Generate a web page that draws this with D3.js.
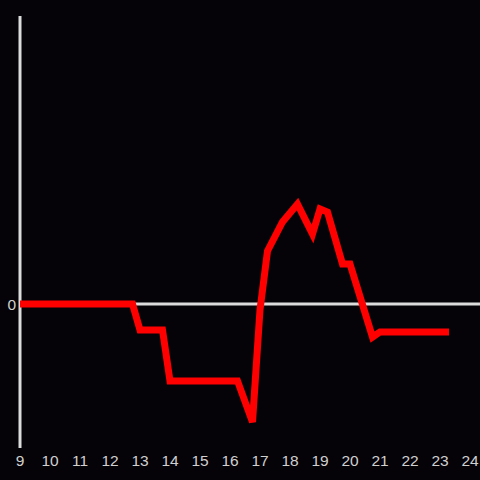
<html>
  <head>
    <script src="https://cdn.jsdelivr.net/npm/d3@7"></script>
    <style>
      body { margin: 0; background: #050308; }
      text { font-family: "Liberation Sans", Arial, sans-serif; font-size: 15.5px; fill: #d0d0d0; }
    </style>
  </head>
  <body>
    <div id="main"></div>
  <script>
    // hours of day and the series value at each
    var hours  = [9.0, 12.75, 13.0, 13.75, 14.0, 16.25, 16.75, 17.0, 17.25, 17.75, 18.25, 18.75, 19.0, 19.25, 19.75, 20.0, 20.75, 21.0, 23.3];
    var values = [0, 0, -9, -9, -26.7, -26.7, -41, -2, 18.4, 28.5, 34.7, 24.3, 33, 31.9, 13.9, 13.9, -11.5, -9.7, -9.7];
    var xTicks = [9, 10, 11, 12, 13, 14, 15, 16, 17, 18, 19, 20, 21, 22, 23, 24];
    var yTicks = [0];

    var width = 480, height = 480;

    var svg = d3.select('#main')
      .append('svg')
      .attr('width', width)
      .attr('height', height)
      .style('display', 'block')
      .style('background', '#050308');

    var x = d3.scaleLinear().domain([9, 24]).range([20, 470]);
    var y = d3.scaleLinear().domain([-50, 100]).range([448, 16]);

    // y axis line
    svg.append('line')
      .attr('x1', x(9)).attr('x2', x(9))
      .attr('y1', y(100)).attr('y2', y(-50))
      .attr('stroke', '#dcdcdc')
      .attr('stroke-width', 3);

    // zero line
    svg.append('line')
      .attr('x1', x(9)).attr('x2', width)
      .attr('y1', y(0)).attr('y2', y(0))
      .attr('stroke', '#dcdcdc')
      .attr('stroke-width', 3);

    // tick labels
    svg.selectAll('.xl')
      .data(xTicks)
      .enter()
      .append('text')
      .attr('class', 'xl')
      .attr('x', function(d) { return x(d); })
      .attr('y', 466)
      .attr('text-anchor', 'middle')
      .text(function(d) { return d; });

    svg.selectAll('.yl')
      .data(yTicks)
      .enter()
      .append('text')
      .attr('class', 'yl')
      .attr('x', 16)
      .attr('y', function(d) { return y(d) + 6; })
      .attr('text-anchor', 'end')
      .text(function(d) { return d; });

    var line = d3.line()
      .x(function(d, i) { return x(hours[i]); })
      .y(function(d) { return y(d); });

    svg.append('path')
      .datum(values)
      .attr('d', line)
      .attr('fill', 'none')
      .attr('stroke', '#ff0000')
      .attr('stroke-width', 7)
      .attr('stroke-linejoin', 'miter');
  </script>
  </body>
</html>
